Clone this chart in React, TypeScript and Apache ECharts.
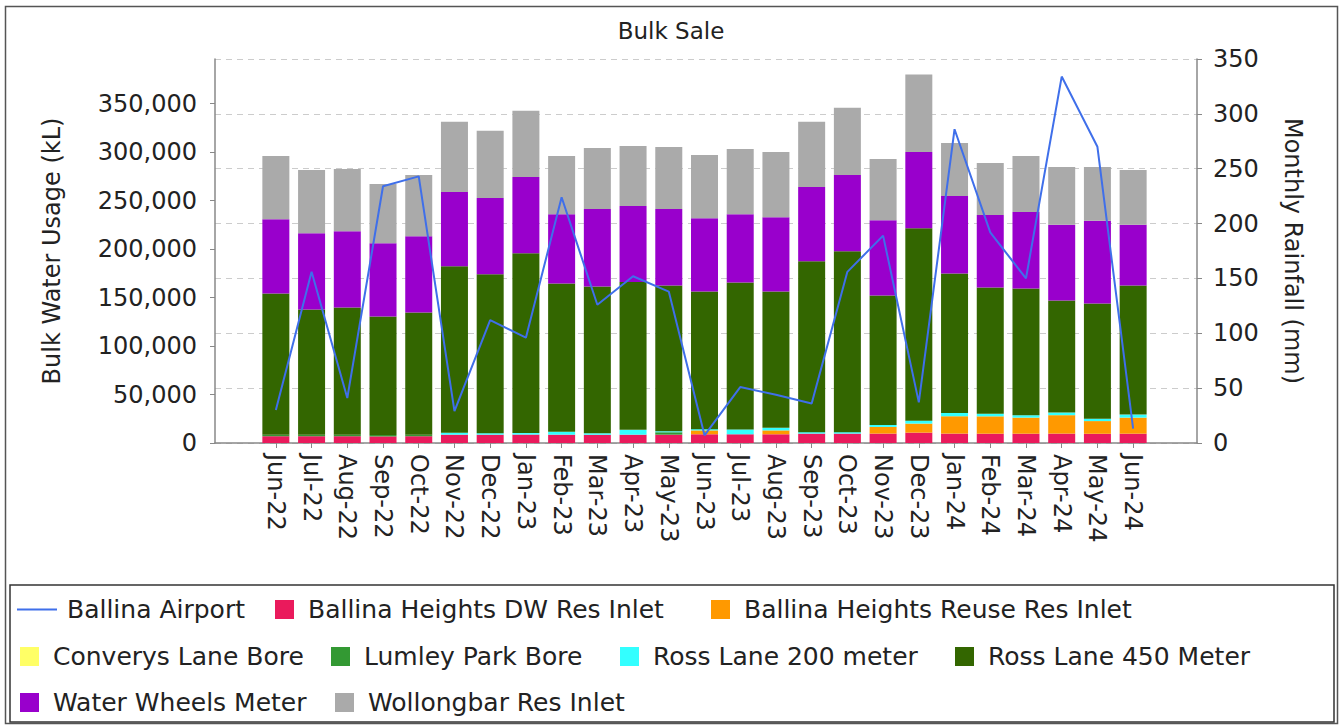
import React, { useEffect, useRef } from 'react';
import * as echarts from 'echarts';

const months = ['Jun-22','Jul-22','Aug-22','Sep-22','Oct-22','Nov-22','Dec-22','Jan-23','Feb-23','Mar-23','Apr-23','May-23','Jun-23','Jul-23','Aug-23','Sep-23','Oct-23','Nov-23','Dec-23','Jan-24','Feb-24','Mar-24','Apr-24','May-24','Jun-24'];

// Monthly rainfall (mm) - Ballina Airport
const ballinaAirport = [30,156,41,234,243,29,112,96,224,126,152,138,7,51,44,36,156,189,37,286,192,150,334,270,13];

// Bulk water usage (kL)
const ballinaHeightsDW = [7000,7000,7000,6800,7000,8600,8600,8700,8600,8500,8600,8600,9000,9000,9000,9700,9700,9700,10700,9700,9600,9600,9700,9500,9600];
const ballinaHeightsReuse = [0,0,0,0,0,0,0,0,0,0,0,0,4000,0,4000,0,0,6900,9300,17900,17900,16600,19000,13100,16600];
const converysLaneBore = [0,0,0,0,0,0,0,0,0,0,0,0,0,0,0,0,0,0,0,0,0,0,0,0,0];
const lumleyParkBore = [1500,1500,1500,1500,1500,0,0,0,0,0,0,2500,0,0,0,0,0,0,0,0,0,0,0,0,0];
const rossLane200 = [0,0,0,0,0,2000,1500,1500,3000,1500,5000,1000,1300,5000,2700,1500,1500,2000,3000,3400,2700,2400,2700,2400,3100];
const rossLane450 = [145700,129200,131300,122100,126100,171600,163800,185500,153000,151500,152400,150400,142000,151600,140600,176200,186500,133600,198500,143900,130200,130800,115600,118900,133200];
const waterWheels = [76600,78700,78600,75600,78700,76600,78700,78600,71400,79700,78300,78700,75600,70400,76600,76600,78700,77600,78700,79700,74600,78700,78000,85200,62500];
const wollongbar = [65200,65200,64200,61100,63100,72500,69400,68300,60000,63100,62100,64100,65200,67300,67300,67300,69300,63100,79700,54900,53800,57900,59600,55500,56600];

const leftTicks = [0,50000,100000,150000,200000,250000,300000,350000];

const FONT = 'DejaVu Sans';
const TXT = '#222';
const AXIS = '#888';

const barSeries = [
  { name: 'Ballina Heights DW Res Inlet', data: ballinaHeightsDW, color: '#EA1A5C' },
  { name: 'Ballina Heights Reuse Res Inlet', data: ballinaHeightsReuse, color: '#FF9900' },
  { name: 'Converys Lane Bore', data: converysLaneBore, color: '#FFFF66' },
  { name: 'Lumley Park Bore', data: lumleyParkBore, color: '#339933' },
  { name: 'Ross Lane 200 meter', data: rossLane200, color: '#33FFFF' },
  { name: 'Ross Lane 450 Meter', data: rossLane450, color: '#336600' },
  { name: 'Water Wheels Meter', data: waterWheels, color: '#9900CC' },
  { name: 'Wollongbar Res Inlet', data: wollongbar, color: '#AAAAAA' },
];

const legendItems = [
  { name: 'Ballina Airport', left: 17, top: 597, w: 40, h: 2, pad: 5 },
  { name: 'Ballina Heights DW Res Inlet', left: 275, top: 597, w: 19, h: 19, pad: 9 },
  { name: 'Ballina Heights Reuse Res Inlet', left: 711, top: 597, w: 19, h: 19, pad: 9 },
  { name: 'Converys Lane Bore', left: 20, top: 644, w: 19, h: 19, pad: 9 },
  { name: 'Lumley Park Bore', left: 331, top: 644, w: 19, h: 19, pad: 9 },
  { name: 'Ross Lane 200 meter', left: 620, top: 644, w: 19, h: 19, pad: 9 },
  { name: 'Ross Lane 450 Meter', left: 955, top: 644, w: 19, h: 19, pad: 9 },
  { name: 'Water Wheels Meter', left: 20, top: 690, w: 19, h: 19, pad: 9 },
  { name: 'Wollongbar Res Inlet', left: 335, top: 690, w: 19, h: 19, pad: 9 },
];

export default function App() {
  const ref = useRef<HTMLDivElement>(null);
  useEffect(() => {
    document.body.style.margin = '0';
    document.body.style.overflow = 'hidden';
    const chart = echarts.init(ref.current!, null, { renderer: 'svg' });
    const axisText = { fontFamily: FONT, fontSize: 24, color: TXT };
    const option: any = {
      animation: false,
      backgroundColor: '#fff',
      title: {
        text: 'Bulk Sale',
        left: 'center',
        top: 14,
        textStyle: { fontFamily: FONT, fontSize: 23, fontWeight: 'normal', color: TXT },
      },
      grid: [
        { left: 215, right: 145, top: 59, bottom: 282 },
        { left: 258, right: 191, top: 59, bottom: 282 },
      ],
      xAxis: [
        {
          gridIndex: 0, type: 'value', min: 0, max: 1,
          axisLine: { show: true, lineStyle: { color: AXIS, width: 1.5 } },
          axisTick: { show: false }, axisLabel: { show: false }, splitLine: { show: false },
        },
        {
          gridIndex: 1, type: 'category', data: months, boundaryGap: true,
          axisLine: { show: false },
          axisTick: { show: true, alignWithLabel: true, length: 5, lineStyle: { color: AXIS } },
          axisLabel: { ...axisText, rotate: -90, margin: 11, interval: 0 },
        },
      ],
      yAxis: [
        {
          gridIndex: 0, type: 'value', position: 'left', min: 0, max: 396000,
          name: 'Bulk Water Usage (kL)', nameLocation: 'middle', nameGap: 151,
          nameTextStyle: { ...axisText },
          axisLine: { show: true, lineStyle: { color: AXIS, width: 1.5 } },
          axisTick: { show: true, length: 5, customValues: leftTicks, lineStyle: { color: AXIS } },
          axisLabel: { ...axisText, margin: 18, customValues: leftTicks, formatter: (v: number) => v.toLocaleString('en-US') },
          splitLine: { show: false },
        },
        {
          gridIndex: 0, type: 'value', position: 'right', min: 0, max: 350, interval: 50,
          name: 'Monthly Rainfall (mm)', nameLocation: 'middle', nameGap: 84, nameRotate: -90,
          nameTextStyle: { ...axisText },
          axisLine: { show: true, lineStyle: { color: AXIS, width: 1.5 } },
          axisTick: { show: true, length: 5, lineStyle: { color: AXIS } },
          axisLabel: { ...axisText, margin: 16 },
          splitLine: { show: true, lineStyle: { type: [6, 5], color: '#ccc' } },
        },
        { gridIndex: 1, type: 'value', min: 0, max: 396000, show: false },
        { gridIndex: 1, type: 'value', min: 0, max: 350, show: false },
      ],
      legend: legendItems.map((it) => ({
        data: [{ name: it.name, icon: 'rect' }],
        left: it.left,
        top: it.top,
        orient: 'horizontal',
        itemWidth: it.w,
        itemHeight: it.h,
        padding: 0,
        selectedMode: false,
        textStyle: { fontFamily: FONT, fontSize: 25, color: TXT, padding: [0, 0, 0, it.pad] },
      })),
      graphic: [
        {
          type: 'rect', silent: true, z: -10,
          shape: { x: 5.5, y: 6.5, width: 1332, height: 717 },
          style: { fill: 'none', stroke: '#555', lineWidth: 1.5 },
        },
        {
          type: 'rect', silent: true,
          shape: { x: 10, y: 585, width: 1324, height: 137 },
          style: { fill: 'none', stroke: '#333', lineWidth: 1.5 },
        },
      ],
      series: [
        ...barSeries.map((s) => ({
          name: s.name,
          type: 'bar',
          stack: 'total',
          xAxisIndex: 1,
          yAxisIndex: 2,
          barWidth: 27,
          data: s.data,
          itemStyle: { color: s.color },
        })),
        {
          name: 'Ballina Airport',
          type: 'line',
          xAxisIndex: 1,
          yAxisIndex: 3,
          data: ballinaAirport,
          symbol: 'none',
          z: 10,
          lineStyle: { color: '#3F6FEA', width: 2 },
          itemStyle: { color: '#3F6FEA' },
        },
      ],
    };
    chart.setOption(option);
    return () => chart.dispose();
  }, []);
  return <div ref={ref} style={{ width: 1342, height: 725 }} />;
}
